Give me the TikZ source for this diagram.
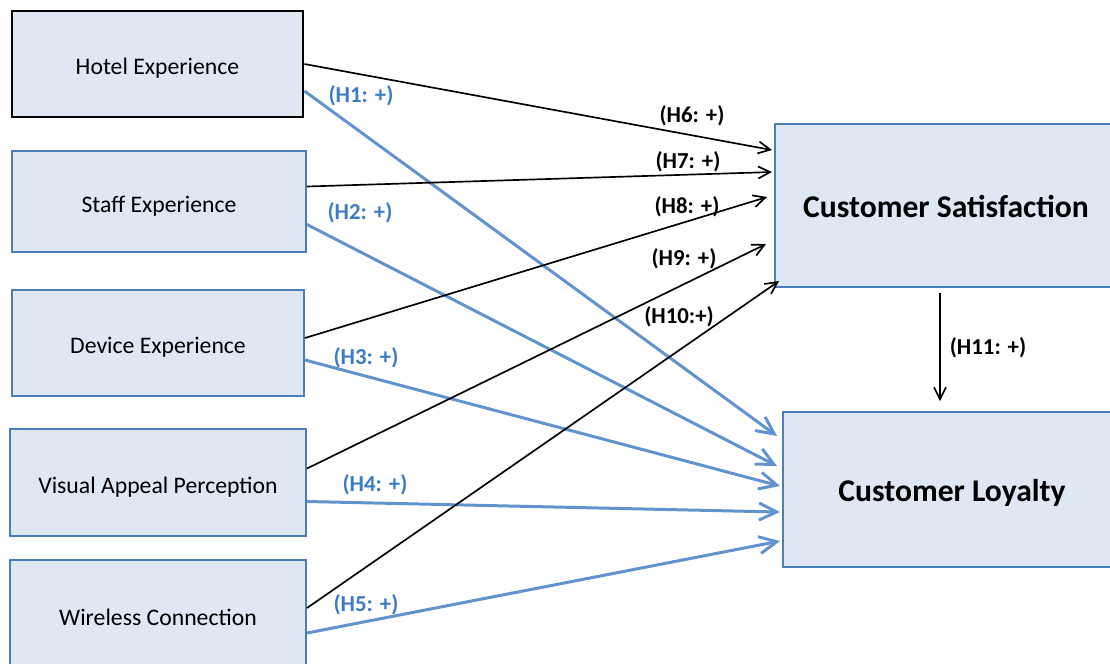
\documentclass[tikz,border=0pt]{standalone}
\usepackage{fontspec}
\setmainfont{Carlito}
\usetikzlibrary{arrows.meta,calc}
\definecolor{boxblue}{HTML}{4A7EBB}
\definecolor{boxfill}{HTML}{DFE7F3}
\definecolor{linkblue}{HTML}{6193CE}
\definecolor{lblblue}{HTML}{3B7BC8}
\tikzset{
  factor/.style    = {draw=boxblue, line width=1.1pt, fill=boxfill, minimum width=58.6mm,
                      minimum height=21mm, inner sep=2pt, align=center,
                      text height=15pt, text depth=3pt,
                      font=\fontsize{13.5}{16}\selectfont},
  outcome/.style   = {factor, minimum width=68mm, minimum height=32mm,
                      text height=17pt, text depth=3.6pt,
                      font=\fontsize{18}{22}\selectfont\bfseries},
  pathblue/.style  = {-{Straight Barb[length=3.5mm,width=3.4mm]}, draw=linkblue, line width=1.7pt},
  pathblack/.style = {-{Straight Barb[length=2.4mm,width=2.4mm]}, line width=0.95pt},
  hyp/.style       = {font=\fontsize{13}{15}\selectfont\bfseries, inner sep=1pt},
  hypblue/.style   = {hyp, text=lblblue},
}

\begin{document}
\begin{tikzpicture}[x=0.2mm, y=-0.2mm]
  \useasboundingbox (0,0) rectangle (1110,663);
  \clip (0,0) rectangle (1110,663);
  \node[factor, draw=black, line width=1.6pt, minimum width=58.2mm, minimum height=21.2mm] (hotel) at (157.5,64) {Hotel Experience};
  \node[factor, minimum width=58.8mm, minimum height=20.2mm] (staff) at (159,201.5) {Staff Experience};
  \node[factor, minimum width=58.4mm, minimum height=21.2mm] (device) at (158,343) {Device Experience};
  \node[factor, minimum width=59.2mm, minimum height=21.4mm] (visual) at (158,482.5) {Visual Appeal Perception};
  \node[factor, minimum width=59.2mm, minimum height=22mm] (wireless) at (158,615) {Wireless Connection};
  \node[outcome, minimum width=68.4mm, minimum height=32.6mm] (sat) at (946,205.5) {Customer Satisfaction};
  \node[outcome, minimum width=67.6mm, minimum height=31mm] (loy) at (952,489.5) {Customer Loyalty};

  \draw[pathblue] ($(hotel.east)+(0,27)$) -- ($(loy.north west)+(-5,25)$);
  \draw[pathblue] ($(staff.east)+(0,23)$) -- ($(loy.north west)+(-5,55)$);
  \draw[pathblue] ($(device.east)+(0,17)$) -- ($(loy.north west)+(-2,75)$);
  \draw[pathblue] ($(visual.east)+(0,19)$) -- ($(loy.north west)+(-2,101)$);
  \draw[pathblue] ($(wireless.east)+(0,18)$) -- ($(loy.north west)+(-2,130)$);

  \draw[pathblack] (hotel.east) -- ($(sat.north west)+(-2,27)$);
  \draw[pathblack] ($(staff.east)+(0,-15)$) -- ($(sat.north west)+(-2,49)$);
  \draw[pathblack] ($(device.east)+(0,-5)$) -- ($(sat.north west)+(-7,74)$);
  \draw[pathblack] ($(visual.east)+(0,-14)$) -- ($(sat.north west)+(-8,121)$);
  \draw[pathblack] ($(wireless.east)+(0,-7)$) -- ($(sat.north west)+(5,158)$);

  \coordinate (h11top) at ($(sat.south)+(-6,5)$);
  \draw[pathblack] (h11top) -- ($(h11top |- loy.north)+(0,-10)$);

  \node[hypblue] (h1) at (361,96) {(H1: +)};
  \node[hypblue] (h2) at (360,213) {(H2: +)};
  \node[hypblue] (h3) at (366,358) {(H3: +)};
  \node[hypblue] (h4) at (375,485) {(H4: +)};
  \node[hypblue] (h5) at (366,605) {(H5: +)};
  \node[hyp] (h6) at (692,116) {(H6: +)};
  \node[hyp] (h7) at (688,162) {(H7: +)};
  \node[hyp] (h8) at (687,207) {(H8: +)};
  \node[hyp] (h9) at (684,259) {(H9: +)};
  \node[hyp] (h10) at (679,317) {(H10:+)};
  \node[hyp] (h11) at (988,348) {(H11: +)};
\end{tikzpicture}
\end{document}
